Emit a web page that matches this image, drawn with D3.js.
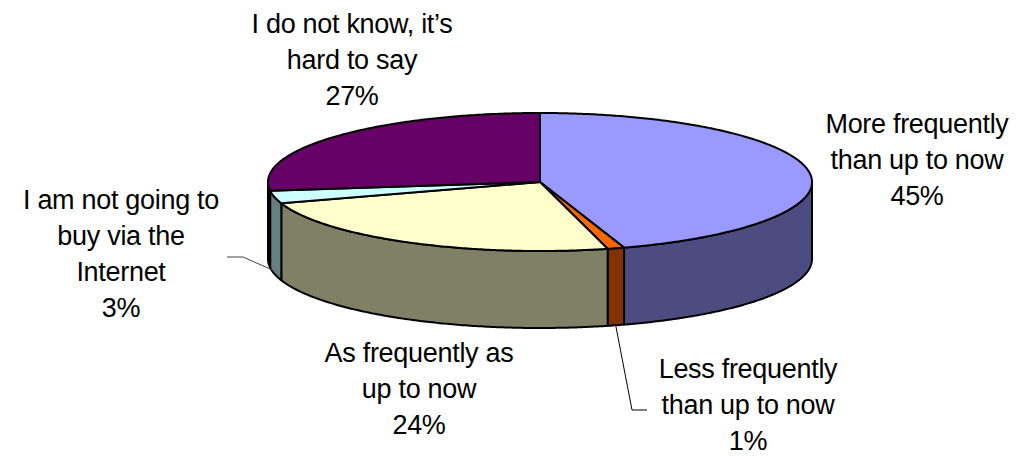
<!DOCTYPE html>
<html>
<head>
<meta charset="utf-8">
<script src="https://cdn.jsdelivr.net/npm/d3@7/dist/d3.min.js"></script>
<style>
  html, body { margin: 0; padding: 0; background: #fff; }
  svg { display: block; }
  text { font-family: "Liberation Sans", Arial, Helvetica, sans-serif; fill: #000; }
</style>
</head>
<body>
<div id="chart"></div>
<script>
// ---- data ----
const categories = [
  "More frequently than up to now",
  "Less frequently than up to now",
  "As frequently as up to now",
  "I am not going to buy via the Internet",
  "I do not know, it’s hard to say"
];
const values = [45, 1, 24, 3, 27];
const labelLines = [
  ["More frequently", "than up to now", "45%"],
  ["Less frequently", "than up to now", "1%"],
  ["As frequently as", "up to now", "24%"],
  ["I am not going to", "buy via the", "Internet", "3%"],
  ["I do not know, it’s", "hard to say", "27%"]
];
const topColors = ["#9999FF", "#FF6600", "#FFFFCC", "#CCFFFF", "#660066"];
const sideColors = ["#4C4C80", "#803300", "#808066", "#668080", "#330033"];

// ---- layout ----
const W = 1019, H = 457;
const cx = 540, cy = 182, rx = 272, ry = 69, depth = 77;
const labelPos = [
  {x: 917, y: 133},
  {x: 748, y: 378},
  {x: 419, y: 362},
  {x: 121, y: 209},
  {x: 352, y: 33}
];
const lineH = 36;

const svg = d3.select("#chart").append("svg")
  .attr("width", W).attr("height", H);

const pie = d3.pie().sort(null).value(d => d)
  .startAngle(0).endAngle(2 * Math.PI);
const arcs = pie(values);

// angle measured clockwise from 12 o'clock
const xS = d3.scaleLinear().domain([-1, 1]).range([cx - rx, cx + rx]);
const yS = d3.scaleLinear().domain([-1, 1]).range([cy - ry, cy + ry]);
const pt = (a, dz = 0) => [xS(Math.sin(a)), yS(-Math.cos(a)) + dz];

const samples = (a0, a1) => {
  const n = Math.max(2, Math.ceil(Math.abs(a1 - a0) / 0.01));
  return d3.range(n + 1).map(i => a0 + (a1 - a0) * i / n);
};
const line = d3.line();

// walls (front half only: PI/2 .. 3PI/2)
const wallG = svg.append("g");
arcs.forEach((d, i) => {
  const a0 = Math.max(d.startAngle, Math.PI / 2);
  const a1 = Math.min(d.endAngle, 3 * Math.PI / 2);
  if (a1 <= a0) return;
  const topPts = samples(a0, a1).map(a => pt(a));
  const botPts = samples(a1, a0).map(a => pt(a, depth));
  wallG.append("path")
    .attr("d", line(topPts.concat(botPts)) + "Z")
    .attr("fill", sideColors[i])
    .attr("stroke", "#000")
    .attr("stroke-width", 2)
    .attr("stroke-linejoin", "round");
});

// top faces
const topG = svg.append("g");
arcs.forEach((d, i) => {
  const pts = [[cx, cy]].concat(samples(d.startAngle, d.endAngle).map(a => pt(a)));
  topG.append("path")
    .attr("d", line(pts) + "Z")
    .attr("fill", topColors[i])
    .attr("stroke", "#000")
    .attr("stroke-width", 2)
    .attr("stroke-linejoin", "round");
});

// leader lines for small slices
const leader = svg.append("g").attr("fill", "none").attr("stroke", "#000").attr("stroke-width", 1);
{
  const d = arcs[1];
  const m = (d.startAngle + d.endAngle) / 2;
  const p = pt(m, depth);
  leader.append("path").attr("d", line([[p[0], p[1] + 1], [632, 410], [647, 410]]));
}
{
  const d = arcs[3];
  const m = (d.startAngle + d.endAngle) / 2;
  const p = pt(m, depth);
  leader.append("path").attr("d", line([[p[0] - 2, p[1] - 4], [243, 257], [227, 257]])).attr("stroke", "#444");
}

// labels
const labG = svg.append("g");
labelLines.forEach((lines, i) => {
  const t = labG.append("text")
    .attr("text-anchor", "middle")
    .attr("font-size", 27)
    .attr("letter-spacing", -0.3);
  lines.forEach((s, j) => {
    t.append("tspan")
      .attr("x", labelPos[i].x)
      .attr("y", labelPos[i].y + j * lineH)
      .text(s);
  });
});
</script>
</body>
</html>
